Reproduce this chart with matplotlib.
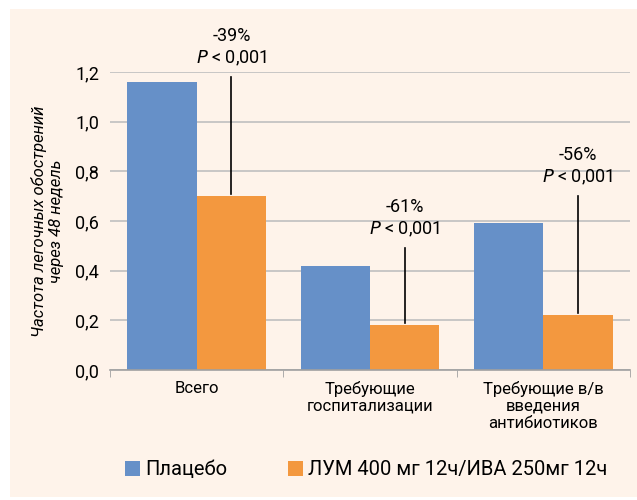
import matplotlib
matplotlib.use("Agg")
import matplotlib.pyplot as plt
from matplotlib.patches import Rectangle
import numpy as np

plt.rcParams["font.family"] = ["Roboto", "DejaVu Sans"]

# data
categories = ["Всего", "Требующие\nгоспитализации", "Требующие в/в\nвведения\nантибиотиков"]
placebo = [1.16, 0.42, 0.59]
lum_iva = [0.70, 0.18, 0.22]
series_names = ["Плацебо", "ЛУМ 400 мг 12ч/ИВА 250мг 12ч"]
changes = ["-39%", "-61%", "-56%"]
line_tops = [1.18, 0.49, 0.70]

blue = "#6690C8"
orange = "#F3983F"
beige = "#FEF3EA"

fig = plt.figure(figsize=(6.37, 5.0), dpi=100)
fig.patches.append(Rectangle((10 / 637, 3 / 500), 627 / 637, 488 / 500,
                             transform=fig.transFigure, facecolor=beige,
                             edgecolor="none", zorder=-1))
ax = fig.add_axes([110 / 637, 130 / 500, 520 / 637, 298 / 500])
ax.set_facecolor(beige)

x = np.arange(len(categories))
w = 0.4
ax.bar(x - w / 2, placebo, w, color=blue, label=series_names[0], zorder=3)
ax.bar(x + w / 2, lum_iva, w, color=orange, label=series_names[1], zorder=3)

for i in range(len(categories)):
    ax.plot([x[i] + w / 2] * 2, [lum_iva[i] + 0.01, line_tops[i]], color="black",
            lw=1.2, zorder=4, clip_on=False)
    ax.text(x[i] + w / 2, line_tops[i] + 0.165, changes[i], ha="center", va="center",
            fontsize=13, clip_on=False)
    ax.text(x[i] + w / 2, line_tops[i] + 0.075, "$P$ < 0,001", ha="center", va="center",
            fontsize=13, clip_on=False)

ax.set_xlim(-0.5, 2.5)
ax.set_ylim(0, 1.2)
ax.set_yticks(np.arange(0, 1.21, 0.2))
ax.set_yticklabels([f"{v:.1f}".replace(".", ",") for v in np.arange(0, 1.21, 0.2)], fontsize=13)
ax.set_xticks(x)
ax.set_xticklabels(categories, fontsize=12, va="top", linespacing=1.15)
ax.set_xticks([-0.5, 0.5, 1.5, 2.5], minor=True)
ax.tick_params(axis="x", which="major", length=0, pad=8)
ax.tick_params(axis="x", which="minor", length=5, color="#A0A0A0")
ax.tick_params(axis="y", length=0, pad=8)
ax.grid(axis="y", color="#BFBFBF", lw=1.2, zorder=0)
for s in ["top", "right", "left"]:
    ax.spines[s].set_visible(False)
ax.spines["bottom"].set_color("#A0A0A0")
ax.spines["bottom"].set_linewidth(1.2)
ax.spines["bottom"].set_zorder(5)

ax.set_ylabel("Частота легочных обострений\nчерез 48 недель", fontsize=12,
              style="italic", labelpad=8)

fig.legend(loc="lower center", bbox_to_anchor=(0.575, 0.005), ncol=2, frameon=False,
           fontsize=14.5, handlelength=0.75, handleheight=0.75, handletextpad=0.25,
           columnspacing=3.0)

fig.savefig("out.png", dpi=100, facecolor="white")
